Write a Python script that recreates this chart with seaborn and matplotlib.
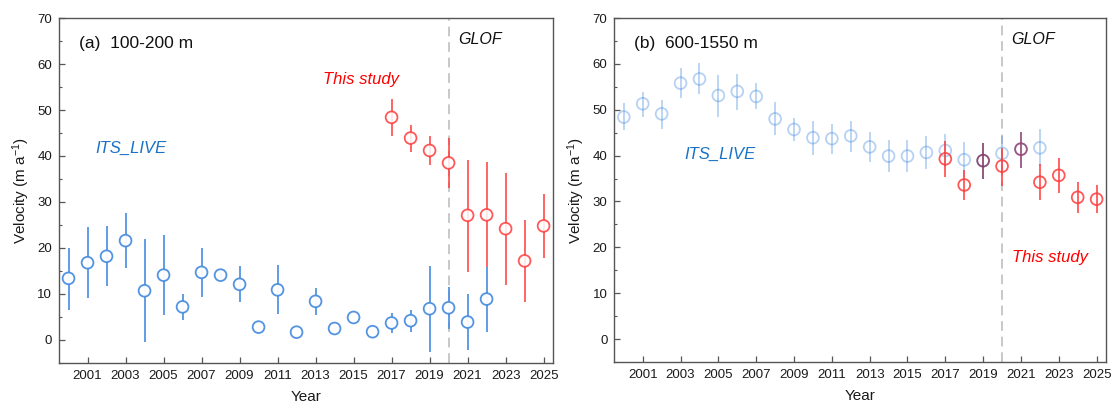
import numpy as np
import pandas as pd
import matplotlib
matplotlib.use("Agg")
import matplotlib.pyplot as plt
import seaborn as sns

# ---------------- data ----------------
years_its = list(range(2000, 2023))
years_study = list(range(2017, 2026))

# Panel (a) 100-200 m
a_its_v = [13.4, 16.8, 18.2, 21.6, 10.7, 14.1, 7.2, 14.7, 14.1, 12.1, 2.8, 10.9,
           1.7, 8.4, 2.5, 4.9, 1.8, 3.7, 4.2, 6.8, 7.0, 3.9, 8.9]
a_its_lo = [6.5, 9.1, 11.8, 15.6, -0.5, 5.4, 4.4, 9.3, 12.9, 8.2, 2.8, 5.7,
            1.7, 5.4, 2.5, 4.9, 1.8, 1.5, 1.7, -2.7, 2.4, -2.2, 1.8]
a_its_hi = [20.0, 24.5, 24.7, 27.6, 21.9, 22.9, 9.9, 20.0, 14.7, 16.0, 2.8, 16.2,
            1.7, 11.3, 2.5, 4.9, 1.8, 5.9, 6.6, 16.0, 11.5, 9.9, 15.8]
a_st_v = [48.4, 43.9, 41.2, 38.5, 27.1, 27.2, 24.2, 17.2, 24.8]
a_st_lo = [44.4, 40.8, 38.0, 33.1, 14.8, 15.8, 12.0, 8.2, 17.8]
a_st_hi = [52.5, 46.7, 44.3, 43.9, 39.1, 38.6, 36.3, 26.1, 31.7]

# Panel (b) 600-1550 m
b_its_v = [48.4, 51.3, 49.1, 55.8, 56.7, 53.1, 54.0, 52.9, 48.0, 45.7, 43.9, 43.7,
           44.3, 41.9, 39.9, 39.9, 40.7, 41.1, 39.1, 38.9, 40.5, 41.4, 41.7]
b_its_lo = [45.5, 48.5, 45.9, 52.5, 53.4, 48.5, 50.0, 50.2, 44.6, 43.2, 40.2, 40.4,
            40.8, 38.5, 36.5, 36.5, 37.0, 37.6, 35.4, 34.9, 36.8, 37.3, 37.8]
b_its_hi = [51.4, 53.9, 52.1, 59.2, 60.1, 57.6, 57.9, 55.8, 51.6, 48.1, 47.6, 46.8,
            47.6, 45.2, 43.3, 43.3, 44.2, 44.7, 42.9, 42.8, 44.3, 45.2, 45.8]
b_st_v = [39.3, 33.6, 38.9, 37.7, 41.4, 34.2, 35.7, 30.9, 30.5]
b_st_lo = [35.4, 30.4, 34.9, 33.3, 37.3, 30.3, 31.8, 27.4, 27.4]
b_st_hi = [43.1, 36.9, 42.8, 41.6, 45.2, 38.2, 39.4, 34.2, 33.5]

panel_titles = ["(a)  100-200 m", "(b)  600-1550 m"]
glof_year = 2020
xtick_years = list(range(2001, 2026, 2))

# ---------------- style ----------------
sns.set_theme(style="ticks")
plt.rcParams["font.family"] = ["Liberation Sans", "DejaVu Sans"]
plt.rcParams["mathtext.default"] = "regular"

BLUE = "#4a8ee0"
RED = "#ff3b3b"
TXT_BLUE = "#1a72c8"

fig = plt.figure(figsize=(11.16, 4.11), dpi=100)
ax_a = fig.add_axes([0.0529, 0.1168, 0.4427, 0.8394])
ax_b = fig.add_axes([0.5505, 0.1192, 0.4406, 0.8370])


def draw_series(ax, years, v, lo, hi, color, alpha, face, z, colors=None):
    v = np.asarray(v); lo = np.asarray(lo); hi = np.asarray(hi)
    yerr = np.vstack([v - lo, hi - v])
    cols = colors if colors is not None else [color] * len(years)
    for i, yr in enumerate(years):
        ax.errorbar([yr], [v[i]], yerr=yerr[:, i:i + 1], fmt="none",
                    ecolor=cols[i], elinewidth=1.3, capsize=0, alpha=alpha,
                    zorder=z)
    df = pd.DataFrame({"Year": years, "Velocity": v})
    sns.scatterplot(data=df, x="Year", y="Velocity", ax=ax, marker="o", s=72,
                    facecolor=face, edgecolor=cols, linewidth=1.3, alpha=alpha,
                    zorder=z + 1, legend=False)


# Panel (a)
draw_series(ax_a, years_its, a_its_v, a_its_lo, a_its_hi, BLUE, 0.95, "white", 3)
draw_series(ax_a, years_study, a_st_v, a_st_lo, a_st_hi, RED, 0.85, "white", 5)

# Panel (b)
draw_series(ax_b, years_its, b_its_v, b_its_lo, b_its_hi, BLUE, 0.4, "none", 3)
b_cols = [RED, RED, "#8a3a62", RED, "#9a4470", RED, RED, RED, RED]
draw_series(ax_b, years_study, b_st_v, b_st_lo, b_st_hi, RED, 0.85, "none", 5,
            colors=b_cols)

for ax, title in zip([ax_a, ax_b], panel_titles):
    ax.axvline(glof_year, color="#c8c8c8", linestyle=(0, (5, 3)), lw=1.4, zorder=1)
    ax.set_xlim(1999.5, 2025.5)
    ax.set_ylim(-5, 70)
    ax.set_xticks(xtick_years)
    ax.set_xticklabels([str(y) for y in xtick_years])
    ax.set_yticks(range(0, 71, 10))
    ax.set_yticks(range(-5, 70, 10), minor=True)
    ax.tick_params(axis="both", which="major", direction="in", length=4,
                   width=0.9, color="#555555", labelsize=9.5, labelcolor="#1a1a1a",
                   pad=5)
    ax.tick_params(axis="y", which="minor", direction="in", length=2.5,
                   width=0.8, color="#555555")
    for sp in ax.spines.values():
        sp.set_visible(True)
        sp.set_color("#555555")
        sp.set_linewidth(1.0)
    ax.set_xlabel("Year", fontsize=11, color="#1a1a1a", labelpad=6)
    ax.set_ylabel("Velocity (m a$^{-1}$)", fontsize=11, color="#1a1a1a", labelpad=4)
    ax.text(0.04, 0.925, title, transform=ax.transAxes, fontsize=12.5,
            color="#111111", va="center", ha="left")
    ax.text(2020.5, 65.3, "GLOF", fontsize=11.5, style="italic",
            color="#111111", va="center", ha="left")

ax_a.text(2001.4, 41.7, "ITS_LIVE", fontsize=12, style="italic", color=TXT_BLUE,
          va="center", ha="left")
ax_a.text(2013.4, 56.7, "This study", fontsize=12, style="italic", color="#ff0000",
          va="center", ha="left")
ax_b.text(2003.2, 40.3, "ITS_LIVE", fontsize=12, style="italic", color=TXT_BLUE,
          va="center", ha="left")
ax_b.text(2020.5, 17.7, "This study", fontsize=12, style="italic", color="#ff0000",
          va="center", ha="left")

fig.savefig("out.png", dpi=100)
